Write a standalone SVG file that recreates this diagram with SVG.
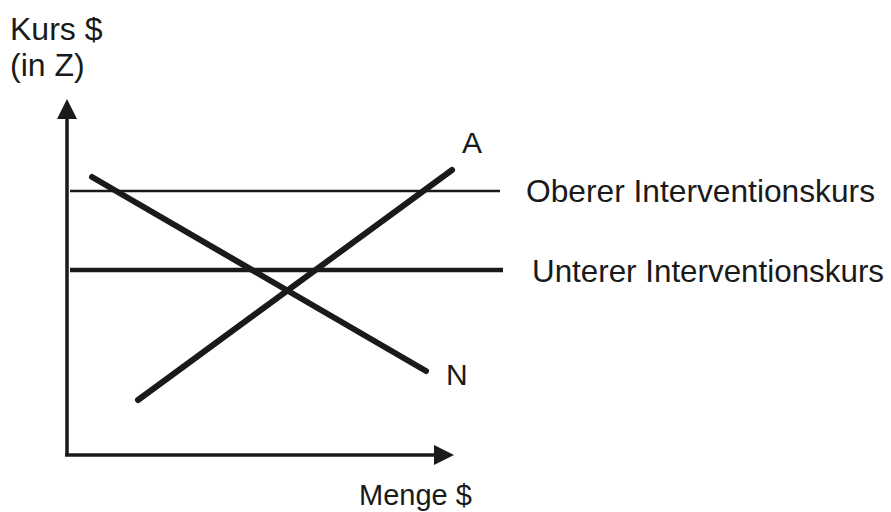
<svg xmlns="http://www.w3.org/2000/svg" width="891" height="512" viewBox="0 0 891 512">
<style>
text{font-family:"Liberation Sans",Arial,sans-serif;font-size:32px;fill:#1a1a1a}
.ax{stroke:#1a1a1a;stroke-width:3.5;fill:none}
.cv{stroke:#1a1a1a;stroke-width:6;stroke-linecap:round;fill:none}
</style>
<defs>
<marker id="ah" markerUnits="userSpaceOnUse" markerWidth="22" markerHeight="22" refX="1" refY="10" orient="auto">
<path d="M0,0 L20,10 L0,20 Z" fill="#1a1a1a"/>
</marker>
</defs>
<rect width="891" height="512" fill="#fff"/>
<g id="connectors">
<path class="ax" d="M67,455 L67,118" marker-end="url(#ah)" />
<path class="ax" d="M65,455 L435,455" marker-end="url(#ah)" />
<line x1="70" y1="191" x2="500" y2="191" stroke="#1a1a1a" stroke-width="2.5"/>
<line x1="70" y1="270" x2="503" y2="270" stroke="#1a1a1a" stroke-width="4.5"/>
<line class="cv" x1="138" y1="400" x2="452" y2="170"/>
<line class="cv" x1="92" y1="177" x2="426" y2="371"/>
</g>
<g id="label-y"><text x="10" y="40">Kurs $</text><text x="10" y="76">(in Z)</text></g>
<g id="label-x"><text x="359" y="505" style="font-size:29px">Menge $</text></g>
<g id="label-A"><text x="462" y="153" style="font-size:30px">A</text></g>
<g id="label-N"><text x="446" y="385" style="font-size:30px">N</text></g>
<g id="label-oberer"><text x="526" y="202" textLength="349" lengthAdjust="spacingAndGlyphs">Oberer Interventionskurs</text></g>
<g id="label-unterer"><text x="532" y="282" textLength="352" lengthAdjust="spacingAndGlyphs">Unterer Interventionskurs</text></g>
</svg>
